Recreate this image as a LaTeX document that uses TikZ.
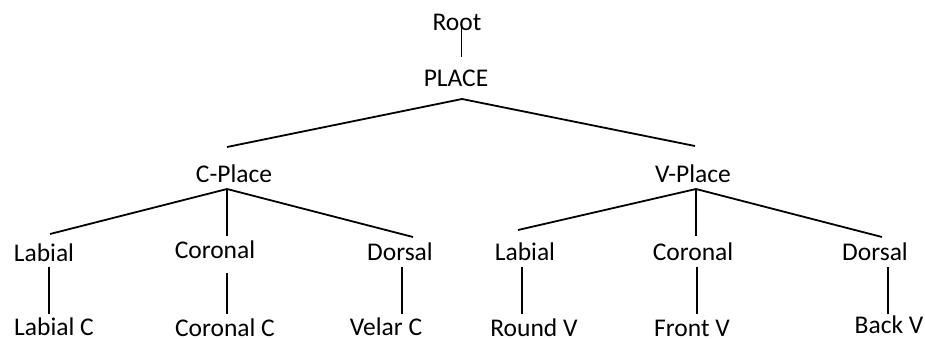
\documentclass[tikz,border=0pt]{standalone}
\usepackage{fontspec}
\setmainfont{Carlito}
\begin{document}
\begin{tikzpicture}[x=1pt,y=-1pt,
  lbl/.style={anchor=base,inner sep=0pt,font=\fontsize{25.5}{28}\selectfont},
  edge/.style={line width=1.8pt,line cap=butt}]
\useasboundingbox[fill=white] (0,0) rectangle (925,338);
% nodes (text)
\node[lbl] (root) at (457,30) {Root};
\node[lbl] (place) at (456,86) {PLACE};
\node[lbl] (cplace) at (234,182) {C-Place};
\node[lbl] (vplace) at (693,182) {V-Place};
\node[lbl] (clab) at (44,261) {Labial};
\node[lbl] (ccor) at (215,258) {Coronal};
\node[lbl] (cdor) at (400,260) {Dorsal};
\node[lbl] (vlab) at (525,260) {Labial};
\node[lbl] (vcor) at (693,260) {Coronal};
\node[lbl] (vdor) at (875,260) {Dorsal};
\node[lbl] (clabc) at (54,335) {Labial C};
\node[lbl] (ccorc) at (225,336) {Coronal C};
\node[lbl] (cvel) at (386,335) {Velar C};
\node[lbl] (vround) at (534,336) {Round V};
\node[lbl] (vfront) at (692,336) {Front V};
\node[lbl] (vback) at (889,333) {Back V};
% connector end points
\coordinate (root-b) at (461.5,27);
\coordinate (place-t) at (461.5,57);
\coordinate (place-b) at (462,99);
\coordinate (cplace-t) at (227,147);
\coordinate (vplace-t) at (695,146);
\coordinate (cplace-b) at (227,189);
\coordinate (vplace-b) at (696,189);
\coordinate (clab-t) at (50,234);
\coordinate (ccor-t) at (227,236);
\coordinate (cdor-t) at (413,237);
\coordinate (vlab-t) at (518,230);
\coordinate (vcor-t) at (696,236);
\coordinate (vdor-t) at (882,237);
\coordinate (clab-b) at (49,267);
\coordinate (clabc-t) at (49,314);
\coordinate (ccor-b) at (227,273);
\coordinate (ccorc-t) at (227,314);
\coordinate (cdor-b) at (402,267);
\coordinate (cvel-t) at (402,314);
\coordinate (vlab-b) at (522,267);
\coordinate (vround-t) at (522,314);
\coordinate (vcor-b) at (697,267);
\coordinate (vfront-t) at (697,314);
\coordinate (vdor-b) at (888,267);
\coordinate (vback-t) at (888,314);
% connectors
\draw[edge] (root-b) -- (place-t);
\draw[edge] (cplace-t) -- (place-b) -- (vplace-t);
\draw[edge] (clab-t) -- (cplace-b) -- (cdor-t);
\draw[edge] (cplace-b) -- (ccor-t);
\draw[edge] (vlab-t) -- (vplace-b) -- (vdor-t);
\draw[edge] (vplace-b) -- (vcor-t);
\draw[edge] (clab-b) -- (clabc-t);
\draw[edge] (ccor-b) -- (ccorc-t);
\draw[edge] (cdor-b) -- (cvel-t);
\draw[edge] (vlab-b) -- (vround-t);
\draw[edge] (vcor-b) -- (vfront-t);
\draw[edge] (vdor-b) -- (vback-t);
\end{tikzpicture}
\end{document}
